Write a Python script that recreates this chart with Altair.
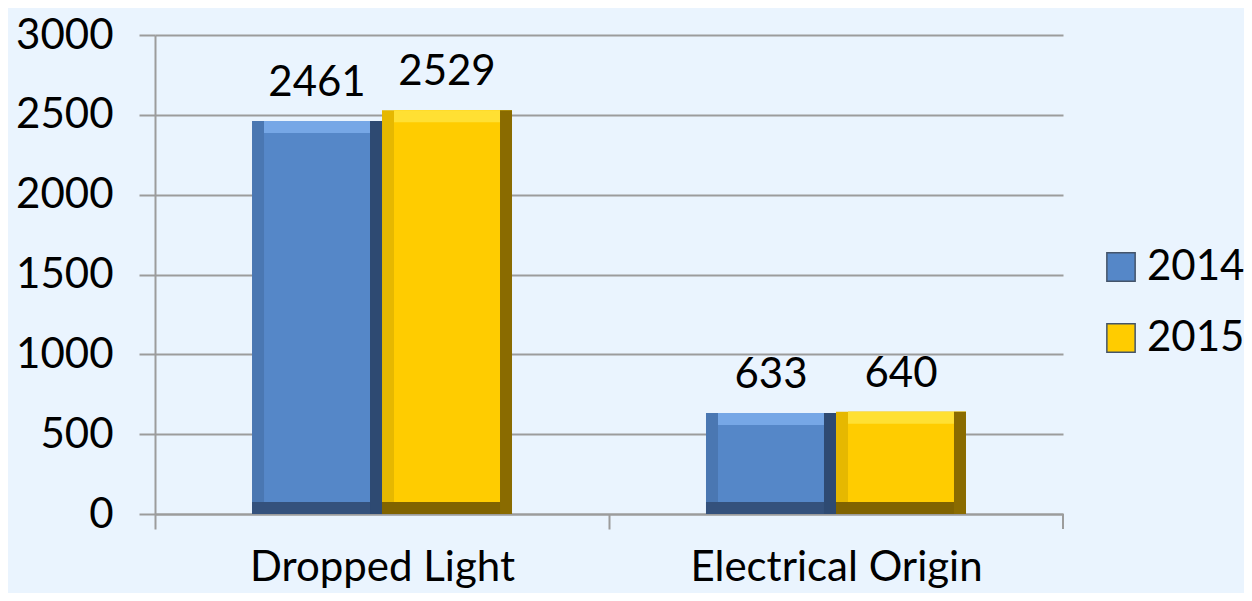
import altair as alt
import pandas as pd

categories = ["Dropped Light", "Electrical Origin"]
years = ["2014", "2015"]
values_2014 = [2461, 633]
values_2015 = [2529, 640]

main_colors = ["#5587C8", "#FFCC00"]
left_colors = ["#4A77B2", "#E6B800"]
right_colors = ["#2E4A72", "#8A6B00"]
bottom_colors = ["#34517C", "#806300"]
top_colors = ["#76A7E6", "#FFE033"]

rows = []
for c, v14, v15 in zip(categories, values_2014, values_2015):
    rows.append({"cause": c, "year": "2014", "value": v14})
    rows.append({"cause": c, "year": "2015", "value": v15})
df = pd.DataFrame(rows)

FONT = "Lato"
FS = 42
GRID = "#9C9C9C"
BEV = 12
BAR = 130.0
W = 908
H = 479

x_enc = alt.X(
    "cause:N",
    sort=categories,
    title=None,
    scale=alt.Scale(paddingInner=0.4273, paddingOuter=0.2137),
    axis=alt.Axis(
        labelAngle=0, labelFont=FONT, labelFontSize=FS, labelColor="#000000",
        labelPadding=18, labelLimit=0, tickSize=15, tickColor=GRID, tickWidth=2,
        domainColor=GRID, domainWidth=2, tickOffset=-227, labelOffset=227,
        grid=False,
    ),
)
xo = alt.XOffset("year:N", sort=years, scale=alt.Scale(paddingInner=0, paddingOuter=0))
y_enc = alt.Y(
    "value:Q",
    title=None,
    scale=alt.Scale(domain=[0, 3000]),
    axis=alt.Axis(
        values=[0, 500, 1000, 1500, 2000, 2500, 3000], format="d",
        labelFont=FONT, labelFontSize=FS, labelColor="#000000",
        labelPadding=26, tickSize=16, tickColor=GRID, tickWidth=2,
        domainColor=GRID, domainWidth=2, gridColor=GRID, gridWidth=2,
    ),
)
zero = alt.Y2(datum=0)

base = alt.Chart(df)


def col(rng, legend=None):
    return alt.Color("year:N", scale=alt.Scale(domain=years, range=rng), legend=legend)


legend = alt.Legend(
    title=None, orient="none", legendX=945, legendY=211,
    labelFont=FONT, labelFontSize=FS, labelColor="#000000",
    symbolType="square", symbolSize=800, symbolStrokeColor="#44546A",
    symbolStrokeWidth=1.5, rowPadding=29, labelOffset=5,
)

# left bevel colour, full bar
left_l = base.mark_bar().encode(x=x_enc, xOffset=xo, y=y_enc, y2=zero, color=col(left_colors))
# main face
face = base.mark_bar(width=alt.RelativeBandSize((BAR - BEV) / BAR)).encode(
    x=x_enc, xOffset=xo, y=y_enc, y2=zero, color=col(main_colors, legend)
)
# top highlight strip
top_l = base.mark_bar(y2Offset=BEV, width=alt.RelativeBandSize((BAR - BEV) / BAR)).encode(
    x=x_enc, xOffset=xo, y=y_enc, y2="value:Q", color=col(top_colors)
)
# bottom shadow strip
bottom_l = base.mark_bar(yOffset=-BEV).encode(
    x=x_enc, xOffset=xo, y=alt.Y(datum=0, scale=alt.Scale(domain=[0, 3000])), y2=zero,
    color=col(bottom_colors),
)
# right shadow strip
right_l = base.mark_bar(width=alt.RelativeBandSize(BEV / BAR)).encode(
    x=x_enc, xOffset=xo, y=y_enc, y2=zero, color=col(right_colors)
)

labels = base.mark_text(
    font=FONT, fontSize=FS, color="#000000", baseline="alphabetic", dy=-25
).encode(x=x_enc, xOffset=xo, y=y_enc, text="value:Q")

end_tick = alt.Chart(pd.DataFrame({"k": [0]})).mark_rule(color=GRID, strokeWidth=2).encode(
    x=alt.value(W), y=alt.value(H), y2=alt.value(H + 15)
)

chart = (
    alt.layer(left_l, face, top_l, bottom_l, right_l, labels, end_tick)
    .resolve_scale(color="independent")
    .properties(
        width=W, height=H, background="#EAF4FE",
        padding={"left": 147, "top": 27, "right": 181, "bottom": 79},
        autosize=alt.AutoSizeParams(type="none"),
    )
    .configure_view(stroke=None)
)

chart.save("out.html", embed_options={"renderer": "svg", "actions": False})
